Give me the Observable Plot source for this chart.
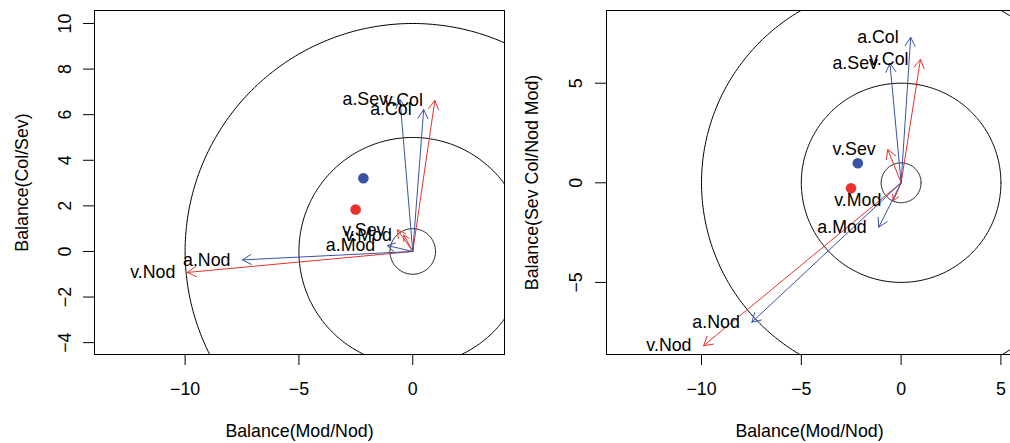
<!DOCTYPE html>
<html><head><meta charset="utf-8">
<script src="https://cdn.jsdelivr.net/npm/d3@7"></script>
<script src="https://cdn.jsdelivr.net/npm/@observablehq/plot@0.6"></script>
<style>
body{margin:0;background:#fff;overflow:hidden;}
#wrap{position:relative;width:1010px;height:443px;overflow:hidden;background:#fff;}
#wrap svg{position:absolute;top:0;overflow:visible;}
</style></head><body><div id="wrap"></div>
<script>
// ---- data ----
const parts = ["v.Col", "a.Col", "a.Sev", "v.Sev", "v.Mod", "a.Mod", "v.Nod", "a.Nod"];
const partGroup = ["v", "a", "a", "v", "v", "a", "v", "a"];
const balModNod = [0.97, 0.48, -0.56, -0.67, -0.39, -1.12, -9.9, -7.48];
const balColSev = [6.62, 6.22, 6.66, 0.95, 0.72, 0.26, -0.92, -0.37];
const balSevColNodMod = [6.2, 7.3, 6.0, 1.67, -0.9, -2.23, -8.18, -7.0];
const centroidGroup = ["a", "v"];
const centroidModNod = [-2.17, -2.51];
const centroidColSev = [3.21, 1.84];
const centroidSevColNodMod = [0.98, -0.27];
const circleRadii = [1, 5, 10];
const leftYTicks = [-4, -2, 0, 2, 4, 6, 8, 10];
const leftXTicks = [-10, -5, 0];
const rightYTicks = [-5, 0, 5];
const rightXTicks = [-10, -5, 0, 5];
const xTitle = "Balance(Mod/Nod)";
const leftYTitle = "Balance(Col/Sev)";
const rightYTitle = "Balance(Sev Col/Nod Mod)";

const groupColors = {domain: ["a", "v"], range: ["#3953a4", "#e8322b"]};
const FONT = "'Liberation Sans', Arial, Helvetica, sans-serif";
const fmt = d => d < 0 ? "\u2212" + Math.abs(d) : String(d);

// circle outlines (geometry from radius, drawn through the scales)
const circlePts = [];
for (const r of circleRadii) {
  for (let k = 0; k <= 360; k++) {
    const a = k * Math.PI / 180;
    circlePts.push({r, x: r * Math.cos(a), y: r * Math.sin(a)});
  }
}

function panel({yVals, cY, xDomain, yDomain, width, marginLeft, marginRight, xTicks, yTicks, yTitle, tickDx, titleDx}) {
  const arrows = parts.map((p, i) => ({label: p, group: partGroup[i], x0: 0, y0: 0, x: balModNod[i], y: yVals[i]}));
  const cents = centroidGroup.map((g, i) => ({group: g, x: centroidModNod[i], y: cY[i]}));
  return Plot.plot({
    width, height: 443, marginLeft, marginRight, marginTop: 10, marginBottom: 89,
    x: {domain: xDomain},
    y: {domain: yDomain},
    color: groupColors,
    style: {fontFamily: FONT, fontSize: "17.8px", color: "black", background: "transparent"},
    marks: [
      Plot.line(circlePts, {x: "x", y: "y", z: "r", stroke: "black", strokeWidth: 1, clip: true}),
      Plot.arrow(arrows, {x1: "x0", y1: "y0", x2: "x", y2: "y", stroke: "group", strokeWidth: 1, headLength: 15}),
      Plot.dot(cents, {x: "x", y: "y", fill: "group", r: 5.3}),
      Plot.text(arrows, {x: "x", y: "y", text: "label", textAnchor: "end", dx: -12, fill: "black", fontSize: 17.8}),
      Plot.frame({stroke: "black", strokeWidth: 1}),
      Plot.axisX({ticks: xTicks, tickSize: 11, tickPadding: 16.5, tickFormat: fmt, label: null, fontSize: 17.8}),
      Plot.axisY({ticks: yTicks, tickSize: 11, tickFormat: () => "", label: null}),
      Plot.text(yTicks, {y: d => d, frameAnchor: "left", dx: tickDx, rotate: -90, text: fmt, fontSize: 17.8, textAnchor: "middle", lineAnchor: "middle"}),
      Plot.text([xTitle], {frameAnchor: "bottom", dy: 77, text: d => d, fontSize: 17.8, textAnchor: "middle", lineAnchor: "middle"}),
      Plot.text([yTitle], {frameAnchor: "left", dx: titleDx, rotate: -90, text: d => d, fontSize: 17.8, textAnchor: "middle", lineAnchor: "middle"})
    ]
  });
}

const left = panel({
  yVals: balColSev, cY: centroidColSev,
  xDomain: [-13.98, 4.03], yDomain: [-4.52, 10.57],
  width: 510, marginLeft: 94, marginRight: 6,
  xTicks: leftXTicks, yTicks: leftYTicks, yTitle: leftYTitle, tickDx: -29, titleDx: -72
});
const right = panel({
  yVals: balSevColNodMod, cY: centroidSevColNodMod,
  xDomain: [-14.76, 5.58], yDomain: [-8.62, 8.65],
  width: 510, marginLeft: 96, marginRight: 8,
  xTicks: rightXTicks, yTicks: rightYTicks, yTitle: rightYTitle, tickDx: -30, titleDx: -74
});
left.style.left = "0px";
right.style.left = "510px";
const wrap = document.getElementById("wrap");
wrap.appendChild(left);
wrap.appendChild(right);
</script></body></html>
